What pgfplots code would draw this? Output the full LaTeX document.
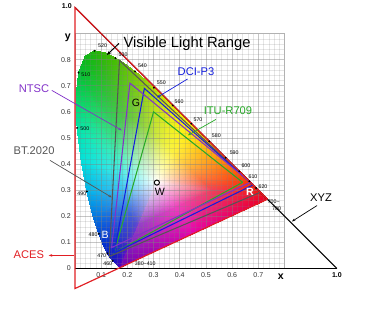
\documentclass[border=0pt]{standalone}
\usepackage{fontspec}
\setmainfont{Liberation Sans}
\usepackage{pgfplots}
\pgfplotsset{compat=1.18}
\usetikzlibrary{arrows.meta}
\definecolor{acesred}{RGB}{225,30,35}
\definecolor{p3blue}{RGB}{20,30,220}
\definecolor{ntscpurple}{RGB}{130,50,200}
\definecolor{itugreen}{RGB}{40,170,40}
\definecolor{btgray}{RGB}{85,85,85}
\begin{document}
\begin{tikzpicture}
\begin{axis}[
  scale only axis, width=6.288cm, height=7.047cm,
  xmin=0, xmax=0.8, ymin=0, ymax=0.9,
  clip=false, set layers=standard,
  axis line style={draw=gray!60, line width=0.6pt},
  grid=both, minor tick num=4,
  major grid style={draw=gray, draw opacity=0.45, line width=0.45pt},
  minor grid style={draw=gray, draw opacity=0.2, line width=0.3pt},
  major tick length=0pt, minor tick length=0pt,
  xtick={0,0.1,0.2,0.3,0.4,0.5,0.6,0.7,0.8}, ytick={0,0.1,0.2,0.3,0.4,0.5,0.6,0.7,0.8,0.9},
  xticklabels={,0.1,0.2,0.3,0.4,0.5,0.6,0.7,},
  yticklabels={0,0.1,0.2,0.3,0.4,0.5,0.6,0.7,0.8,},
  tick label style={font=\fontsize{6}{7}\selectfont, text=black!80},
]
% chromaticity fill: triangles white point -> middle ring -> spectral locus
\addplot[patch, shader=interp, mesh/color input=explicit, on layer=axis background]
table[meta=c] {
x y c
0.3127 0.3290 rgb255=255,255,255
0.2434 0.1670 rgb255=146,64,199
0.2421 0.1671 rgb255=132,64,206
0.2434 0.1670 rgb255=146,64,199
0.1741 0.0050 rgb255=110,0,180
0.1714 0.0051 rgb255=90,0,190
0.2434 0.1670 rgb255=146,64,199
0.1714 0.0051 rgb255=90,0,190
0.2421 0.1671 rgb255=132,64,206
0.3127 0.3290 rgb255=255,255,255
0.2421 0.1671 rgb255=132,64,206
0.2386 0.1700 rgb255=109,64,210
0.2421 0.1671 rgb255=132,64,206
0.1714 0.0051 rgb255=90,0,190
0.1644 0.0109 rgb255=60,0,195
0.2421 0.1671 rgb255=132,64,206
0.1644 0.0109 rgb255=60,0,195
0.2386 0.1700 rgb255=109,64,210
0.3127 0.3290 rgb255=255,255,255
0.2386 0.1700 rgb255=109,64,210
0.2347 0.1734 rgb255=94,72,210
0.2386 0.1700 rgb255=109,64,210
0.1644 0.0109 rgb255=60,0,195
0.1566 0.0177 rgb255=40,10,195
0.2386 0.1700 rgb255=109,64,210
0.1566 0.0177 rgb255=40,10,195
0.2347 0.1734 rgb255=94,72,210
0.3127 0.3290 rgb255=255,255,255
0.2347 0.1734 rgb255=94,72,210
0.2284 0.1794 rgb255=79,79,206
0.2347 0.1734 rgb255=94,72,210
0.1566 0.0177 rgb255=40,10,195
0.1440 0.0297 rgb255=20,20,190
0.2347 0.1734 rgb255=94,72,210
0.1440 0.0297 rgb255=20,20,190
0.2284 0.1794 rgb255=79,79,206
0.3127 0.3290 rgb255=255,255,255
0.2284 0.1794 rgb255=79,79,206
0.2241 0.1845 rgb255=75,83,210
0.2284 0.1794 rgb255=79,79,206
0.1440 0.0297 rgb255=20,20,190
0.1355 0.0399 rgb255=15,25,195
0.2284 0.1794 rgb255=79,79,206
0.1355 0.0399 rgb255=15,25,195
0.2241 0.1845 rgb255=75,83,210
0.3127 0.3290 rgb255=255,255,255
0.2241 0.1845 rgb255=75,83,210
0.2184 0.1934 rgb255=71,86,214
0.2241 0.1845 rgb255=75,83,210
0.1355 0.0399 rgb255=15,25,195
0.1241 0.0578 rgb255=10,30,200
0.2241 0.1845 rgb255=75,83,210
0.1241 0.0578 rgb255=10,30,200
0.2184 0.1934 rgb255=71,86,214
0.3127 0.3290 rgb255=255,255,255
0.2184 0.1934 rgb255=71,86,214
0.2112 0.2079 rgb255=64,98,218
0.2184 0.1934 rgb255=71,86,214
0.1241 0.0578 rgb255=10,30,200
0.1096 0.0868 rgb255=0,45,205
0.2184 0.1934 rgb255=71,86,214
0.1096 0.0868 rgb255=0,45,205
0.2112 0.2079 rgb255=64,98,218
0.3127 0.3290 rgb255=255,255,255
0.2112 0.2079 rgb255=64,98,218
0.2020 0.2309 rgb255=64,116,225
0.2112 0.2079 rgb255=64,98,218
0.1096 0.0868 rgb255=0,45,205
0.0913 0.1327 rgb255=0,70,215
0.2112 0.2079 rgb255=64,98,218
0.0913 0.1327 rgb255=0,70,215
0.2020 0.2309 rgb255=64,116,225
0.3127 0.3290 rgb255=255,255,255
0.2020 0.2309 rgb255=64,116,225
0.1907 0.2649 rgb255=64,154,233
0.2020 0.2309 rgb255=64,116,225
0.0913 0.1327 rgb255=0,70,215
0.0687 0.2007 rgb255=0,120,225
0.2020 0.2309 rgb255=64,116,225
0.0687 0.2007 rgb255=0,120,225
0.1907 0.2649 rgb255=64,154,233
0.3127 0.3290 rgb255=255,255,255
0.1907 0.2649 rgb255=64,154,233
0.1791 0.3120 rgb255=64,199,240
0.1907 0.2649 rgb255=64,154,233
0.0687 0.2007 rgb255=0,120,225
0.0454 0.2950 rgb255=0,180,235
0.1907 0.2649 rgb255=64,154,233
0.0454 0.2950 rgb255=0,180,235
0.1791 0.3120 rgb255=64,199,240
0.3127 0.3290 rgb255=255,255,255
0.1791 0.3120 rgb255=64,199,240
0.1681 0.3709 rgb255=64,233,229
0.1791 0.3120 rgb255=64,199,240
0.0454 0.2950 rgb255=0,180,235
0.0235 0.4127 rgb255=0,225,220
0.1791 0.3120 rgb255=64,199,240
0.0235 0.4127 rgb255=0,225,220
0.1681 0.3709 rgb255=64,233,229
0.3127 0.3290 rgb255=255,255,255
0.1681 0.3709 rgb255=64,233,229
0.1605 0.4337 rgb255=64,236,191
0.1681 0.3709 rgb255=64,233,229
0.0235 0.4127 rgb255=0,225,220
0.0082 0.5384 rgb255=0,230,170
0.1681 0.3709 rgb255=64,233,229
0.0082 0.5384 rgb255=0,230,170
0.1605 0.4337 rgb255=64,236,191
0.3127 0.3290 rgb255=255,255,255
0.1605 0.4337 rgb255=64,236,191
0.1583 0.4919 rgb255=64,225,139
0.1605 0.4337 rgb255=64,236,191
0.0082 0.5384 rgb255=0,230,170
0.0039 0.6548 rgb255=0,215,100
0.1605 0.4337 rgb255=64,236,191
0.0039 0.6548 rgb255=0,215,100
0.1583 0.4919 rgb255=64,225,139
0.3127 0.3290 rgb255=255,255,255
0.1583 0.4919 rgb255=64,225,139
0.1633 0.5396 rgb255=64,210,101
0.1583 0.4919 rgb255=64,225,139
0.0039 0.6548 rgb255=0,215,100
0.0139 0.7502 rgb255=0,195,50
0.1583 0.4919 rgb255=64,225,139
0.0139 0.7502 rgb255=0,195,50
0.1633 0.5396 rgb255=64,210,101
0.3127 0.3290 rgb255=255,255,255
0.1633 0.5396 rgb255=64,210,101
0.1758 0.5705 rgb255=71,203,79
0.1633 0.5396 rgb255=64,210,101
0.0139 0.7502 rgb255=0,195,50
0.0389 0.8120 rgb255=10,185,20
0.1633 0.5396 rgb255=64,210,101
0.0389 0.8120 rgb255=10,185,20
0.1758 0.5705 rgb255=71,203,79
0.3127 0.3290 rgb255=255,255,255
0.1758 0.5705 rgb255=71,203,79
0.1935 0.5814 rgb255=86,199,71
0.1758 0.5705 rgb255=71,203,79
0.0389 0.8120 rgb255=10,185,20
0.0743 0.8338 rgb255=30,180,10
0.1758 0.5705 rgb255=71,203,79
0.0743 0.8338 rgb255=30,180,10
0.1935 0.5814 rgb255=86,199,71
0.3127 0.3290 rgb255=255,255,255
0.1935 0.5814 rgb255=86,199,71
0.2135 0.5776 rgb255=101,203,64
0.1935 0.5814 rgb255=86,199,71
0.0743 0.8338 rgb255=30,180,10
0.1142 0.8262 rgb255=50,185,0
0.1935 0.5814 rgb255=86,199,71
0.1142 0.8262 rgb255=50,185,0
0.2135 0.5776 rgb255=101,203,64
0.3127 0.3290 rgb255=255,255,255
0.2135 0.5776 rgb255=101,203,64
0.2337 0.5675 rgb255=116,206,64
0.2135 0.5776 rgb255=101,203,64
0.1142 0.8262 rgb255=50,185,0
0.1547 0.8059 rgb255=70,190,0
0.2135 0.5776 rgb255=101,203,64
0.1547 0.8059 rgb255=70,190,0
0.2337 0.5675 rgb255=116,206,64
0.3127 0.3290 rgb255=255,255,255
0.2337 0.5675 rgb255=116,206,64
0.2528 0.5553 rgb255=135,210,64
0.2337 0.5675 rgb255=116,206,64
0.1547 0.8059 rgb255=70,190,0
0.1929 0.7816 rgb255=95,195,0
0.2337 0.5675 rgb255=116,206,64
0.1929 0.7816 rgb255=95,195,0
0.2528 0.5553 rgb255=135,210,64
0.3127 0.3290 rgb255=255,255,255
0.2528 0.5553 rgb255=135,210,64
0.2712 0.5417 rgb255=154,214,64
0.2528 0.5553 rgb255=135,210,64
0.1929 0.7816 rgb255=95,195,0
0.2296 0.7543 rgb255=120,200,0
0.2528 0.5553 rgb255=135,210,64
0.2296 0.7543 rgb255=120,200,0
0.2712 0.5417 rgb255=154,214,64
0.3127 0.3290 rgb255=255,255,255
0.2712 0.5417 rgb255=154,214,64
0.2893 0.5267 rgb255=176,221,64
0.2712 0.5417 rgb255=154,214,64
0.2296 0.7543 rgb255=120,200,0
0.2658 0.7243 rgb255=150,210,0
0.2712 0.5417 rgb255=154,214,64
0.2658 0.7243 rgb255=150,210,0
0.2893 0.5267 rgb255=176,221,64
0.3127 0.3290 rgb255=255,255,255
0.2893 0.5267 rgb255=176,221,64
0.3072 0.5107 rgb255=199,229,64
0.2893 0.5267 rgb255=176,221,64
0.2658 0.7243 rgb255=150,210,0
0.3016 0.6923 rgb255=180,220,0
0.2893 0.5267 rgb255=176,221,64
0.3016 0.6923 rgb255=180,220,0
0.3072 0.5107 rgb255=199,229,64
0.3127 0.3290 rgb255=255,255,255
0.3072 0.5107 rgb255=199,229,64
0.3250 0.4940 rgb255=218,235,64
0.3072 0.5107 rgb255=199,229,64
0.3016 0.6923 rgb255=180,220,0
0.3373 0.6589 rgb255=205,228,0
0.3072 0.5107 rgb255=199,229,64
0.3373 0.6589 rgb255=205,228,0
0.3250 0.4940 rgb255=218,235,64
0.3127 0.3290 rgb255=255,255,255
0.3250 0.4940 rgb255=218,235,64
0.3429 0.4768 rgb255=236,240,64
0.3250 0.4940 rgb255=218,235,64
0.3373 0.6589 rgb255=205,228,0
0.3731 0.6245 rgb255=230,235,0
0.3250 0.4940 rgb255=218,235,64
0.3731 0.6245 rgb255=230,235,0
0.3429 0.4768 rgb255=236,240,64
0.3127 0.3290 rgb255=255,255,255
0.3429 0.4768 rgb255=236,240,64
0.3607 0.4593 rgb255=247,244,64
0.3429 0.4768 rgb255=236,240,64
0.3731 0.6245 rgb255=230,235,0
0.4087 0.5896 rgb255=245,240,0
0.3429 0.4768 rgb255=236,240,64
0.4087 0.5896 rgb255=245,240,0
0.3607 0.4593 rgb255=247,244,64
0.3127 0.3290 rgb255=255,255,255
0.3607 0.4593 rgb255=247,244,64
0.3784 0.4419 rgb255=255,240,64
0.3607 0.4593 rgb255=247,244,64
0.4087 0.5896 rgb255=245,240,0
0.4441 0.5547 rgb255=255,235,0
0.3607 0.4593 rgb255=247,244,64
0.4441 0.5547 rgb255=255,235,0
0.3784 0.4419 rgb255=255,240,64
0.3127 0.3290 rgb255=255,255,255
0.3784 0.4419 rgb255=255,240,64
0.3958 0.4246 rgb255=255,225,64
0.3784 0.4419 rgb255=255,240,64
0.4441 0.5547 rgb255=255,235,0
0.4788 0.5202 rgb255=255,215,0
0.3784 0.4419 rgb255=255,240,64
0.4788 0.5202 rgb255=255,215,0
0.3958 0.4246 rgb255=255,225,64
0.3127 0.3290 rgb255=255,255,255
0.3958 0.4246 rgb255=255,225,64
0.4126 0.4078 rgb255=255,206,64
0.3958 0.4246 rgb255=255,225,64
0.4788 0.5202 rgb255=255,215,0
0.5125 0.4866 rgb255=255,190,0
0.3958 0.4246 rgb255=255,225,64
0.5125 0.4866 rgb255=255,190,0
0.4126 0.4078 rgb255=255,206,64
0.3127 0.3290 rgb255=255,255,255
0.4126 0.4078 rgb255=255,206,64
0.4288 0.3917 rgb255=255,188,64
0.4126 0.4078 rgb255=255,206,64
0.5125 0.4866 rgb255=255,190,0
0.5448 0.4544 rgb255=255,165,0
0.4126 0.4078 rgb255=255,206,64
0.5448 0.4544 rgb255=255,165,0
0.4288 0.3917 rgb255=255,188,64
0.3127 0.3290 rgb255=255,255,255
0.4288 0.3917 rgb255=255,188,64
0.4440 0.3766 rgb255=255,169,64
0.4288 0.3917 rgb255=255,188,64
0.5448 0.4544 rgb255=255,165,0
0.5752 0.4242 rgb255=255,140,0
0.4288 0.3917 rgb255=255,188,64
0.5752 0.4242 rgb255=255,140,0
0.4440 0.3766 rgb255=255,169,64
0.3127 0.3290 rgb255=255,255,255
0.4440 0.3766 rgb255=255,169,64
0.4578 0.3628 rgb255=255,150,64
0.4440 0.3766 rgb255=255,169,64
0.5752 0.4242 rgb255=255,140,0
0.6029 0.3965 rgb255=255,115,0
0.4440 0.3766 rgb255=255,169,64
0.6029 0.3965 rgb255=255,115,0
0.4578 0.3628 rgb255=255,150,64
0.3127 0.3290 rgb255=255,255,255
0.4578 0.3628 rgb255=255,150,64
0.4699 0.3508 rgb255=255,131,64
0.4578 0.3628 rgb255=255,150,64
0.6029 0.3965 rgb255=255,115,0
0.6270 0.3725 rgb255=255,90,0
0.4578 0.3628 rgb255=255,150,64
0.6270 0.3725 rgb255=255,90,0
0.4699 0.3508 rgb255=255,131,64
0.3127 0.3290 rgb255=255,255,255
0.4699 0.3508 rgb255=255,131,64
0.4893 0.3315 rgb255=251,105,64
0.4699 0.3508 rgb255=255,131,64
0.6270 0.3725 rgb255=255,90,0
0.6658 0.3340 rgb255=250,55,0
0.4699 0.3508 rgb255=255,131,64
0.6658 0.3340 rgb255=250,55,0
0.4893 0.3315 rgb255=251,105,64
0.3127 0.3290 rgb255=255,255,255
0.4893 0.3315 rgb255=251,105,64
0.5021 0.3187 rgb255=248,86,71
0.4893 0.3315 rgb255=251,105,64
0.6658 0.3340 rgb255=250,55,0
0.6915 0.3083 rgb255=245,30,10
0.4893 0.3315 rgb255=251,105,64
0.6915 0.3083 rgb255=245,30,10
0.5021 0.3187 rgb255=248,86,71
0.3127 0.3290 rgb255=255,255,255
0.5021 0.3187 rgb255=248,86,71
0.5159 0.3050 rgb255=244,71,83
0.5021 0.3187 rgb255=248,86,71
0.6915 0.3083 rgb255=245,30,10
0.7190 0.2809 rgb255=240,10,25
0.5021 0.3187 rgb255=248,86,71
0.7190 0.2809 rgb255=240,10,25
0.5159 0.3050 rgb255=244,71,83
0.3127 0.3290 rgb255=255,255,255
0.5159 0.3050 rgb255=244,71,83
0.5237 0.2972 rgb255=240,64,90
0.5159 0.3050 rgb255=244,71,83
0.7190 0.2809 rgb255=240,10,25
0.7347 0.2653 rgb255=235,0,35
0.5159 0.3050 rgb255=244,71,83
0.7347 0.2653 rgb255=235,0,35
0.5237 0.2972 rgb255=240,64,90
0.3127 0.3290 rgb255=255,255,255
0.5237 0.2972 rgb255=240,64,90
0.3836 0.2321 rgb255=236,64,191
0.5237 0.2972 rgb255=240,64,90
0.7347 0.2653 rgb255=235,0,35
0.4544 0.1352 rgb255=230,0,170
0.5237 0.2972 rgb255=240,64,90
0.4544 0.1352 rgb255=230,0,170
0.3836 0.2321 rgb255=236,64,191
0.3127 0.3290 rgb255=255,255,255
0.3836 0.2321 rgb255=236,64,191
0.2434 0.1670 rgb255=146,64,199
0.3836 0.2321 rgb255=236,64,191
0.4544 0.1352 rgb255=230,0,170
0.1741 0.0050 rgb255=110,0,180
0.3836 0.2321 rgb255=236,64,191
0.1741 0.0050 rgb255=110,0,180
0.2434 0.1670 rgb255=146,64,199
};
% XYZ triangle
\addplot[black, line width=0.9pt] coordinates {(0,0) (1,0)};
\addplot[black, line width=0.9pt] coordinates {(0,1) (1,0)};
% gamuts
\addplot[btgray, line width=0.9pt] coordinates {(0.708,0.292) (0.170,0.797) (0.131,0.046) (0.708,0.292)};
\addplot[itugreen, line width=0.9pt] coordinates {(0.64,0.33) (0.30,0.60) (0.15,0.06) (0.64,0.33)};
\addplot[p3blue, line width=0.9pt] coordinates {(0.680,0.320) (0.265,0.690) (0.150,0.060) (0.680,0.320)};
\addplot[ntscpurple, line width=0.9pt] coordinates {(0.67,0.33) (0.21,0.71) (0.14,0.08) (0.67,0.33)};
\addplot[acesred, line width=1pt] coordinates {(0.7347,0.2653) (0,1) (0.0001,-0.077) (0.7347,0.2653)};
% wavelength dots
\addplot[only marks, mark=*, mark size=0.55pt, black] coordinates {
(0.0743,0.8338) (0.1547,0.8059) (0.2296,0.7543) (0.3016,0.6923) (0.3731,0.6245)
(0.4441,0.5547) (0.5125,0.4866) (0.5752,0.4242) (0.6270,0.3725) (0.6658,0.3340)
(0.6915,0.3083) (0.0139,0.7502) (0.0082,0.5384) (0.0454,0.2950) (0.0913,0.1327)
(0.1241,0.0578) (0.1440,0.0297)};
% white point
\addplot[only marks, mark=o, mark size=2.2pt, black, thick] coordinates {(0.3127,0.3290)};

% wavelength labels
\begin{scope}[every node/.style={font=\fontsize{4.5}{5}\selectfont, inner sep=0pt}]
\node[anchor=west] at (axis cs:0.088,0.852) {520};
\node[anchor=west] at (axis cs:0.166,0.818) {530};
\node[anchor=west] at (axis cs:0.240,0.776) {540};
\node[anchor=west] at (axis cs:0.312,0.712) {550};
\node[anchor=west] at (axis cs:0.380,0.638) {560};
\node[anchor=west] at (axis cs:0.452,0.569) {570};
\node[anchor=west] at (axis cs:0.522,0.507) {580};
\node[anchor=west] at (axis cs:0.590,0.445) {590};
\node[anchor=west] at (axis cs:0.635,0.392) {600};
\node[anchor=west] at (axis cs:0.662,0.350) {610};
\node[anchor=west] at (axis cs:0.700,0.315) {620};
\node[anchor=west] at (axis cs:0.735,0.256) {700\textasciitilde};
\node[anchor=west] at (axis cs:0.752,0.228) {780};
\node[anchor=west] at (axis cs:0.024,0.743) {510};
\node[anchor=west] at (axis cs:0.020,0.535) {500};
\node[anchor=east] at (axis cs:0.044,0.288) {490};
\node[anchor=east] at (axis cs:0.087,0.130) {480};
\node[anchor=east] at (axis cs:0.120,0.050) {470};
\node[anchor=east] at (axis cs:0.143,0.018) {460};
\node[anchor=west] at (axis cs:0.228,0.018) {380\textasciitilde410};
\end{scope}

% axis labels
\node[font=\fontsize{6}{7}\selectfont\bfseries] at (axis cs:-0.031,1.004) {1.0};
\node[font=\fontsize{6}{7}\selectfont\bfseries] at (axis cs:1.0,-0.027) {1.0};
\node[font=\fontsize{9}{10}\selectfont\bfseries] at (axis cs:0.786,-0.030) {x};
\node[font=\fontsize{9}{10}\selectfont\bfseries] at (axis cs:-0.027,0.885) {y};

% point labels
\node[font=\fontsize{9}{10}\selectfont] at (axis cs:0.233,0.636) {G};
\node[font=\fontsize{9}{10}\selectfont, text=white] at (axis cs:0.115,0.130) {B};
\node[font=\fontsize{9}{10}\selectfont\bfseries, text=white] at (axis cs:0.668,0.295) {R};
\node[font=\fontsize{9}{10}\selectfont] at (axis cs:0.324,0.293) {W};

% annotations
\node[font=\fontsize{12.6}{14}\selectfont, anchor=west] at (axis cs:0.170,0.860) {Visible Light Range};
\draw[-{Stealth[length=4pt]}, line width=0.8pt] (axis cs:0.168,0.862) -- (axis cs:0.122,0.818);
\node[font=\fontsize{9.5}{11}\selectfont, text=p3blue] at (axis cs:0.462,0.755) {DCI-P3};
\draw[-{Stealth[length=3pt]}, p3blue, line width=0.6pt] (axis cs:0.430,0.726) -- (axis cs:0.313,0.655);
\node[font=\fontsize{9.5}{11}\selectfont, text=ntscpurple] at (axis cs:-0.156,0.690) {NTSC};
\draw[-{Stealth[length=3pt]}, ntscpurple, line width=0.6pt] (axis cs:-0.088,0.682) -- (axis cs:0.179,0.529);
\node[font=\fontsize{9.5}{11}\selectfont, text=itugreen] at (axis cs:0.584,0.605) {ITU-R709};
\draw[-{Stealth[length=3pt]}, itugreen, line width=0.6pt] (axis cs:0.538,0.571) -- (axis cs:0.431,0.510);
\node[font=\fontsize{9.5}{11}\selectfont, text=btgray] at (axis cs:-0.156,0.452) {BT.2020};
\draw[-{Stealth[length=3pt]}, btgray, line width=0.6pt] (axis cs:-0.095,0.414) -- (axis cs:0.141,0.272);
\node[font=\fontsize{9.5}{11}\selectfont, text=acesred] at (axis cs:-0.176,0.054) {ACES};
\draw[-{Stealth[length=3pt]}, acesred, line width=0.6pt] (axis cs:-0.004,0.050) -- (axis cs:-0.100,0.050);
\node[font=\fontsize{9.5}{11}\selectfont] at (axis cs:0.939,0.272) {XYZ};
\draw[-{Stealth[length=3pt]}, line width=0.6pt] (axis cs:0.924,0.241) -- (axis cs:0.828,0.180);

% picture extent
\path (axis cs:-0.286,-0.215) rectangle (axis cs:1.149,1.019);
\end{axis}
\end{tikzpicture}
\end{document}
